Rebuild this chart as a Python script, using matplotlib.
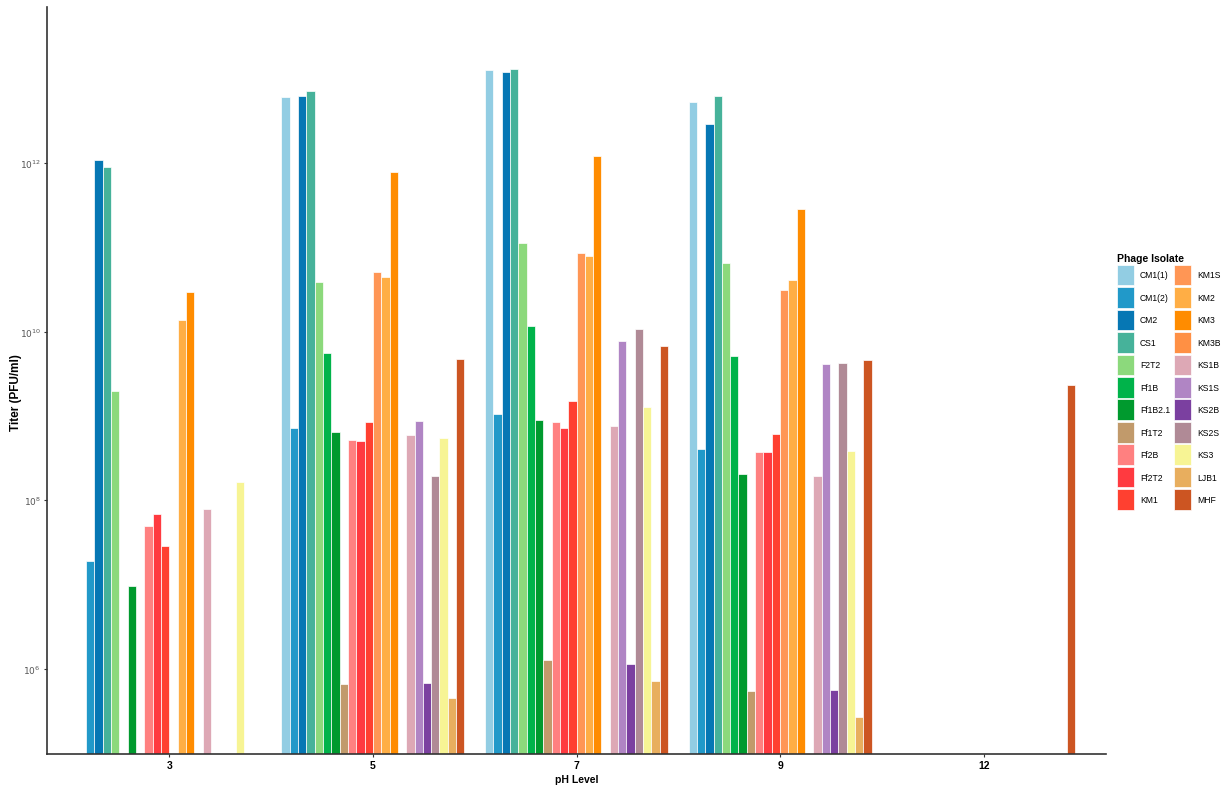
import numpy as np
import matplotlib
matplotlib.use("Agg")
import matplotlib.pyplot as plt
from matplotlib.patches import Patch

plt.rcParams['font.family'] = ['Liberation Sans', 'DejaVu Sans']

ph_levels = ["3", "5", "7", "9", "12"]
isolates = ["CM1(1)", "CM1(2)", "CM2", "CS1", "F2T2", "Ff1B", "Ff1B2.1", "Ff1T2",
            "Ff2B", "Ff2T2", "KM1", "KM1S", "KM2", "KM3", "KM3B", "KS1B", "KS1S",
            "KS2B", "KS2S", "KS3", "LJB1", "MHF"]
colors = ["#92CDE3", "#2199C9", "#0677B4", "#46B29A", "#8CD97C", "#00B34A", "#009A2E",
          "#C19A6B", "#FF8080", "#FF3A40", "#FF4030", "#FF9655", "#FFAE45", "#FF8C00",
          "#FF9044", "#DDA8B5", "#B085C4", "#7B40A0", "#B08A96", "#F7F494", "#E8AE5E",
          "#CC5522"]

nan = np.nan
# titers (PFU/ml) per isolate, in the order of `isolates`
titer_ph3 = [nan, 1.9e7, 1.09e12, 8.9e11, 1.95e9, nan, 9.7e6, nan,
             4.9e7, 6.8e7, 2.9e7, nan, 1.38e10, 2.93e10, nan, 7.8e7, nan,
             nan, nan, 1.64e8, nan, nan]
titer_ph5 = [6.0e12, 7.1e8, 6.3e12, 7.2e12, 3.85e10, 5.6e9, 6.4e8, 6.65e5,
             5.2e8, 5.06e8, 8.4e8, 5.06e10, 4.5e10, 7.76e11, nan, 6.0e8, 8.8e8,
             6.8e5, 1.96e8, 5.4e8, 4.5e5, 4.7e9]
titer_ph7 = [1.28e13, 1.06e9, 1.19e13, 1.31e13, 1.12e11, 1.16e10, 9.0e8, 1.28e6,
             8.4e8, 7.2e8, 1.49e9, 8.5e10, 7.8e10, 1.22e12, nan, 7.5e8, 7.7e9,
             1.14e6, 1.08e10, 1.26e9, 7.1e5, 6.8e9]
titer_ph9 = [5.3e12, 4.1e8, 2.9e12, 6.2e12, 6.6e10, 5.1e9, 2.06e8, 5.4e5,
             3.7e8, 3.7e8, 6.1e8, 3.15e10, 4.1e10, 2.85e11, nan, 1.96e8, 4.1e9,
             5.6e5, 4.2e9, 3.8e8, 2.7e5, 4.6e9]
titer_ph12 = [nan] * 21 + [2.3e9]

table = np.array([titer_ph3, titer_ph5, titer_ph7, titer_ph9, titer_ph12], dtype=float)

W, H = 1228, 803
fig = plt.figure(figsize=(W / 100, H / 100), dpi=100)
ax = fig.add_axes([47 / W, 1 - 755 / H, (1106 - 47) / W, (755 - 8) / H])
ax.set_yscale('log')
ymin, ymax = 10 ** 4.99, 10 ** 13.85

n = len(isolates)
bw = 0.9 / n
xg = np.arange(len(ph_levels))
for j, iso in enumerate(isolates):
    vals = table[:, j]
    mask = ~np.isnan(vals)
    xs = xg[mask] + (j - (n - 1) / 2) * bw
    ax.bar(xs, vals[mask] - 1e3, bottom=1e3, width=bw, color=colors[j],
           edgecolor='white', linewidth=0.5, zorder=2)

ax.set_ylim(ymin, ymax)
ax.set_xlim(-0.6, len(ph_levels) - 0.4)
ax.set_xticks(xg)
ax.set_xticklabels(ph_levels, fontsize=7.5, fontweight='bold', color='black')
ax.set_yticks([1e6, 1e8, 1e10, 1e12])
ax.set_yticklabels([r'$10^{6}$', r'$10^{8}$', r'$10^{10}$', r'$10^{12}$'],
                   fontsize=6.5, color='#555555')
ax.minorticks_off()
ax.tick_params(axis='both', length=2.5, width=0.8, color='#333333', pad=2)
for s in ['top', 'right']:
    ax.spines[s].set_visible(False)
for s in ['left', 'bottom']:
    ax.spines[s].set_linewidth(1.2)
    ax.spines[s].set_color('#333333')

ax.set_xlabel('pH Level', fontsize=7.5, fontweight='bold', labelpad=3)
ax.set_ylabel('Titer (PFU/ml)', fontsize=8.5, fontweight='bold')
ax.yaxis.set_label_coords(-0.0236, (755 - 393) / 747)

handles = [Patch(facecolor=c, edgecolor='white', linewidth=0.5) for c in colors]
leg = fig.legend(handles, isolates, ncol=2, loc='upper left',
                 bbox_to_anchor=(1115 / W, 1 - 252 / H), frameon=False,
                 fontsize=6.2, title='Phage Isolate',
                 title_fontproperties={'weight': 'bold', 'size': 7.5},
                 handlelength=1.95, handleheight=3.3, labelspacing=0.22,
                 handletextpad=0.75, columnspacing=0.45, borderpad=0.2,
                 borderaxespad=0)
leg._legend_box.align = 'left'

fig.savefig('out.png', dpi=100, facecolor='white')
